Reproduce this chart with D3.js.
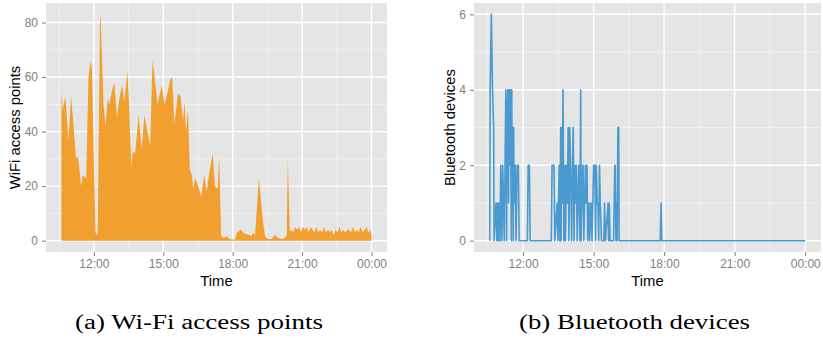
<!DOCTYPE html>
<html>
<head>
<meta charset="utf-8">
<script src="https://cdn.jsdelivr.net/npm/d3@7"></script>
<style>
  body { margin: 0; background: #fff; }
  svg { display: block; }
  text { font-family: "Liberation Sans", Arial, sans-serif; }
</style>
</head>
<body>
<svg id="chart" width="823" height="338"></svg>
<script>
// --- data ---
var wifiTimes = ["10:36","10:39","10:46","10:54","11:01","11:14","11:19","11:27","11:31","11:40",
  "11:46","11:51","11:55","12:04","12:08","12:10","12:16","12:18","12:25","12:30",
  "12:36","12:40","12:47","12:53","13:00","13:06","13:13","13:19","13:27","13:31",
  "13:37","13:41","13:47","13:56","14:04","14:11","14:19","14:26","14:32","14:36",
  "14:45","14:56","15:03","15:09","15:18","15:23","15:29","15:38","15:45","15:51",
  "15:55","15:59","16:04","16:09","16:14","16:18","16:22","16:31","16:38","16:46",
  "16:53","16:56","17:08","17:14","17:21","17:25","17:30","17:36","17:45","17:53",
  "18:06","18:11","18:21","18:30","18:40","18:49","18:53","18:58","19:08","19:17",
  "19:24","19:32","19:41","19:50","19:57","20:11","20:20","20:23","20:28","20:32",
  "20:37","20:42","20:47","20:52","20:57","21:02","21:07","21:12","21:17","21:22",
  "21:27","21:32","21:37","21:42","21:47","21:52","21:57","22:02","22:07","22:12",
  "22:17","22:22","22:27","22:32","22:37","22:42","22:47","22:52","22:57","23:02",
  "23:07","23:12","23:17","23:22","23:27","23:32","23:37","23:42","23:47","23:52",
  "23:57","00:00"];
var wifiValues = [55,48,53,37,53,30,31,20,24,23,
  60,66,63,3,2,4,83,80,50,42,
  52,50,55,58,45,52,57,51,62,50,
  27,33,32,46,34,46,40,35,66,62,
  50,57,50,53,59,60,43,54,53,44,
  51,40,48,26,24,19,23,20,16,24,
  18,22,32,20,19,31,2,1,1.5,0.5,
  0.3,3,4,2.6,2.2,1.8,3,1.8,23,9,
  1.4,0.6,0.6,2.2,1,0.6,1.8,30,3.4,4,
  3,5,4,5,3,5,4,5,3,5,
  4,3,5,3,4,3,5,3,4,3,
  4,2,4,3,5,3,4,3,4,4,
  3,5,3,4,3,5,3,4,5,3,
  4,2];

var btTimes = ["10:35","10:36","10:39","10:42","10:45","10:46","10:51","10:53","10:55","10:57",
  "10:59","11:01","11:03","11:06","11:08","11:10","11:12","11:14","11:16","11:18",
  "11:19","11:21","11:23","11:24","11:26","11:28","11:30","11:31","11:32","11:33",
  "11:35","11:36","11:37","11:40","11:42","11:45","11:48","11:50","12:11","12:13",
  "12:16","12:18","13:12","13:14","13:17","13:19","13:21","13:27","13:29","13:32",
  "13:34","13:36","13:37","13:38","13:40","13:42","13:44","13:47","13:48","13:51",
  "13:53","13:55","13:57","13:59","14:01","14:04","14:06","14:08","14:10","14:12",
  "14:14","14:16","14:18","14:20","14:22","14:25","14:27","14:28","14:30","14:32",
  "14:33","14:35","14:37","14:39","14:41","14:43","14:45","14:47","14:48","14:50",
  "14:53","14:54","14:56","15:00","15:03","15:05","15:07","15:09","15:11","15:13",
  "15:15","15:17","15:20","15:26","15:28","15:30","15:37","15:38","15:40","15:42",
  "15:51","15:54","15:55","15:57","15:59","16:00","16:02","16:04","16:05","17:50",
  "17:52","17:54","00:00"];
var btValues = [0,4,6,4,3,0,1,0,1,0,
  1,0,2,0,2,1,0,2,4,0,
  3,4,1,4,2,4,0,4,2,3,
  0,3,1,2,0,2,2,0,0,2,
  2,0,0,2,2,2,0,1,0,2,
  0,3,0,3,1,4,0,2,0,2,
  1,3,0,3,2,0,2,3,0,2,
  1,2,0,1,2,0,4,0,1,2,
  2,0,1,2,1,2,0,1,1,0,
  1,1,0,2,2,0,2,1,1,0,
  2,1,0,0,1,0,1,0,1,0,
  0,2,2,0,1,0,3,3,0,0,
  1,0,0];

var xTickLabels = ["12:00","15:00","18:00","21:00","00:00"];
var xMinorLabels = ["10:30","13:30","16:30","19:30","22:30"];
var wifiYTicks = [0,20,40,60,80];
var wifiYMinor = [10,30,50,70];
var btYTicks = [0,2,4,6];
var btYMinor = [1,3,5];

// "HH:MM" -> hours, times after midnight belong to the next day
function toHours(s) {
  var p = s.split(":");
  var h = +p[0] + (+p[1]) / 60;
  if (h < 6) h += 24;
  return h;
}

function expand(ext) {
  var pad = (ext[1] - ext[0]) * 0.05;
  return [ext[0] - pad, ext[1] + pad];
}

var wifi = wifiTimes.map((t, i) => ({ t: toHours(t), v: wifiValues[i] }));
var bt = btTimes.map((t, i) => ({ t: toHours(t), v: btValues[i] }));

var svg = d3.select("#chart");

function panel(opts) {
  var x = d3.scaleLinear().domain(expand(d3.extent(opts.data, d => d.t))).range([opts.left, opts.right]);
  var y = d3.scaleLinear().domain(expand([0, d3.max(opts.data, d => d.v)])).range([opts.bottom, opts.top]);

  var g = svg.append("g");

  g.append("rect")
    .attr("x", opts.left).attr("y", opts.top)
    .attr("width", opts.right - opts.left).attr("height", opts.bottom - opts.top)
    .attr("fill", "#e5e5e5");

  // minor grid
  g.selectAll(".minorx").data(xMinorLabels).enter().append("line")
    .attr("x1", d => x(toHours(d))).attr("x2", d => x(toHours(d)))
    .attr("y1", opts.top).attr("y2", opts.bottom)
    .attr("stroke", "#f2f2f2").attr("stroke-width", 0.8);
  g.selectAll(".minory").data(opts.yMinor).enter().append("line")
    .attr("x1", opts.left).attr("x2", opts.right)
    .attr("y1", d => y(d)).attr("y2", d => y(d))
    .attr("stroke", "#f2f2f2").attr("stroke-width", 0.8);

  // major grid
  g.selectAll(".majorx").data(xTickLabels).enter().append("line")
    .attr("x1", d => x(toHours(d))).attr("x2", d => x(toHours(d)))
    .attr("y1", opts.top).attr("y2", opts.bottom)
    .attr("stroke", "#fff").attr("stroke-width", 1.4);
  g.selectAll(".majory").data(opts.yTicks).enter().append("line")
    .attr("x1", opts.left).attr("x2", opts.right)
    .attr("y1", d => y(d)).attr("y2", d => y(d))
    .attr("stroke", "#fff").attr("stroke-width", 1.4);

  if (opts.kind === "area") {
    g.append("path")
      .datum(opts.data)
      .attr("fill", opts.color)
      .attr("d", d3.area().x(d => x(d.t)).y0(y(0)).y1(d => y(d.v)));
  } else {
    g.append("path")
      .datum(opts.data)
      .attr("fill", "none")
      .attr("stroke", opts.color)
      .attr("stroke-width", 1.6)
      .attr("stroke-linejoin", "round")
      .attr("d", d3.line().x(d => x(d.t)).y(d => y(d.v)));
  }

  // axes
  var xAxis = d3.axisBottom(x)
    .tickValues(xTickLabels.map(toHours))
    .tickFormat((d, i) => xTickLabels[i])
    .tickSize(4).tickPadding(3);
  var xg = g.append("g").attr("transform", "translate(0," + opts.bottom + ")").call(xAxis);
  xg.select(".domain").remove();
  xg.selectAll("line").attr("stroke", "#7f7f7f");
  xg.selectAll("text").attr("fill", "#7f7f7f").style("font-size", "12px")
    .style("font-family", "Liberation Sans, Arial, sans-serif");

  var yAxis = d3.axisLeft(y).tickValues(opts.yTicks).tickFormat(d3.format("d"))
    .tickSize(4).tickPadding(4);
  var yg = g.append("g").attr("transform", "translate(" + opts.left + ",0)").call(yAxis);
  yg.select(".domain").remove();
  yg.selectAll("line").attr("stroke", "#7f7f7f");
  yg.selectAll("text").attr("fill", "#7f7f7f").style("font-size", "12px")
    .style("font-family", "Liberation Sans, Arial, sans-serif");

  g.append("text")
    .attr("x", (opts.left + opts.right) / 2).attr("y", 286)
    .attr("text-anchor", "middle")
    .style("font-size", "14.8px")
    .text("Time");

  g.append("text")
    .attr("transform", "translate(" + opts.ylabX + "," + (opts.top + opts.bottom) / 2 + ") rotate(-90)")
    .attr("text-anchor", "middle")
    .style("font-size", "14.8px")
    .text(opts.ylabel);

  g.append("text")
    .attr("x", opts.capX).attr("y", 329)
    .attr("text-anchor", "middle")
    .attr("textLength", opts.capW).attr("lengthAdjust", "spacingAndGlyphs")
    .style("font-family", "Liberation Serif, 'Times New Roman', serif")
    .style("font-size", "20px")
    .text(opts.caption);
}

panel({
  data: wifi, kind: "area", color: "#f1a02f",
  left: 46, right: 387, top: 3, bottom: 252,
  yTicks: wifiYTicks, yMinor: wifiYMinor,
  ylabel: "WiFi access points", ylabX: 19.5,
  caption: "(a) Wi-Fi access points", capX: 199, capW: 248
});

panel({
  data: bt, kind: "line", color: "#4a9acf",
  left: 474, right: 821, top: 3, bottom: 252,
  yTicks: btYTicks, yMinor: btYMinor,
  ylabel: "Bluetooth devices", ylabX: 455,
  caption: "(b) Bluetooth devices", capX: 634.5, capW: 231
});
</script>
</body>
</html>
